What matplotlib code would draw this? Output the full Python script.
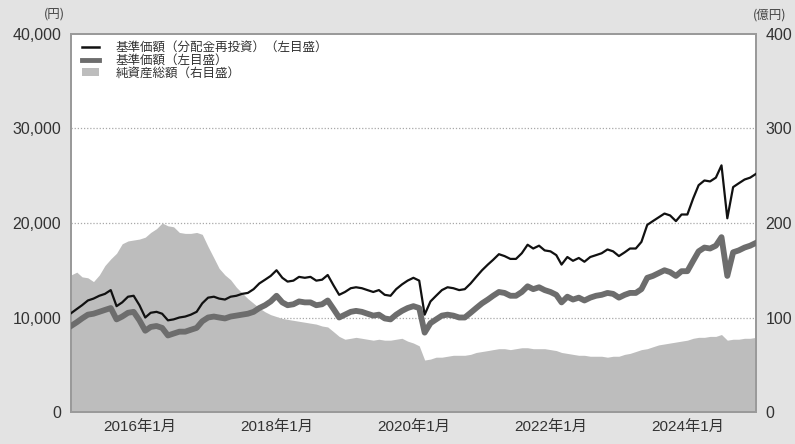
import matplotlib
matplotlib.use("Agg")
import matplotlib.pyplot as plt
from matplotlib.lines import Line2D
from matplotlib.patches import Patch
import pandas as pd

plt.rcParams["font.family"] = ["Liberation Sans", "Noto Sans CJK JP", "DejaVu Sans"]

# Monthly observations, Jan 2015 - Jan 2025
dates = pd.date_range("2015-01-01", "2025-01-01", freq="MS")

# 基準価額（分配金再投資） [円]
nav_reinvested = [
    10450, 10900, 11300, 11800, 12000, 12300, 12500, 12900, 11200, 11600, 12200, 12300,
    11300, 10000, 10500, 10600, 10400, 9700, 9800, 10000, 10100, 10300, 10600, 11500,
    12100, 12200, 12000, 11900, 12200, 12300, 12500, 12600, 13000, 13600, 14000, 14400,
    15000, 14200, 13800, 13900, 14300, 14200, 14300, 13900, 14000, 14500, 13400, 12400,
    12700, 13100, 13200, 13100, 12900, 12700, 12900, 12400, 12300, 13000, 13500, 13900,
    14200, 13900, 10300, 11700, 12300, 12900, 13200, 13100, 12900, 13000, 13600, 14300,
    15000, 15600, 16100, 16700, 16500, 16200, 16200, 16800, 17700, 17300, 17600, 17100,
    17000, 16600, 15600, 16400, 16000, 16300, 15900, 16400, 16600, 16800, 17200, 17000,
    16500, 16900, 17300, 17300, 18000, 19800, 20200, 20600, 21000, 20800, 20200, 20900,
    20900, 22600, 24000, 24500, 24400, 24800, 26100, 20500, 23800, 24200, 24600, 24800,
    25200,
]

# 基準価額 [円]
nav = [
    9100, 9500, 9900, 10300, 10400, 10600, 10800, 11000, 9800, 10100, 10500, 10600,
    9700, 8600, 9000, 9100, 8900, 8100, 8300, 8500, 8500, 8700, 8900, 9600,
    10000, 10100, 10000, 9900, 10100, 10200, 10300, 10400, 10600, 11000, 11300, 11700,
    12300, 11600, 11300, 11400, 11700, 11600, 11600, 11300, 11400, 11800, 10900, 10000,
    10300, 10600, 10700, 10600, 10400, 10200, 10300, 9900, 9800, 10300, 10700, 11000,
    11200, 11000, 8400, 9400, 9800, 10200, 10300, 10200, 10000, 10000, 10500, 11000,
    11500, 11900, 12300, 12700, 12600, 12300, 12300, 12700, 13300, 13000, 13200, 12900,
    12700, 12400, 11600, 12200, 11900, 12100, 11800, 12100, 12300, 12400, 12600, 12500,
    12100, 12400, 12600, 12600, 13000, 14200, 14400, 14700, 15000, 14800, 14400, 14900,
    14900, 16000, 17000, 17400, 17300, 17600, 18500, 14400, 16900, 17100, 17400, 17600,
    17900,
]

# 純資産総額 [億円]
net_assets = [
    145, 148, 143, 142, 138, 145, 155, 162, 168, 178, 181, 182,
    183, 185, 190, 194, 200, 197, 196, 190, 189, 189, 190, 188,
    175, 163, 152, 145, 140, 132, 126, 120, 115, 110, 106, 103,
    101, 99, 98, 97, 96, 95, 94, 93, 91, 90, 85, 80,
    77, 78, 79, 78, 77, 76, 77, 76, 76, 77, 78, 75,
    73, 70, 55, 56, 58, 58, 59, 60, 60, 60, 61, 63,
    64, 65, 66, 67, 67, 66, 67, 68, 68, 67, 67, 67,
    66, 65, 63, 62, 61, 60, 60, 59, 59, 59, 58, 59,
    59, 61, 62, 64, 66, 67, 69, 71, 72, 73, 74, 75,
    76, 78, 79, 79, 80, 80, 82, 76, 77, 77, 78, 78,
    79,
]

left_ticks = [0, 10000, 20000, 30000, 40000]
left_labels = ["0", "10,000", "20,000", "30,000", "40,000"]
right_ticks = [0, 100, 200, 300, 400]
right_labels = ["0", "100", "200", "300", "400"]
x_tick_years = [2016, 2018, 2020, 2022, 2024]
x_tick_labels = [f"{y}年1月" for y in x_tick_years]

legend_labels = ["基準価額（分配金再投資）（左目盛）", "基準価額（左目盛）", "純資産総額（右目盛）"]

BG = "#e3e3e3"
AREA = "#bdbdbd"
NAV_GREY = "#6d6d6d"
SPINE = "#9a9a9a"

fig = plt.figure(figsize=(7.95, 4.44), dpi=100, facecolor=BG)
ax2 = fig.add_axes([71 / 795, 32 / 444, 685 / 795, 378 / 444])
ax = ax2.twinx()
ax2.set_zorder(1)
ax.set_zorder(2)
ax.patch.set_visible(False)
ax2.set_facecolor("white")

# net assets area on the right scale
ax2.fill_between(dates, 0, net_assets, color=AREA, linewidth=0, zorder=2)
ax2.set_ylim(0, 400)

# grid lines
for v in left_ticks[1:-1]:
    ax2.axhline(v / 100, color="#a8a8a8", linewidth=0.9, linestyle=(0, (1, 1.5)), zorder=1)

# the price lines on the left scale
ax.plot(dates, nav, color=NAV_GREY, linewidth=4.2, solid_joinstyle="round", zorder=3)
ax.plot(dates, nav_reinvested, color="#111111", linewidth=1.6, solid_joinstyle="round", zorder=4)
ax.set_ylim(0, 40000)

# the twin axis carries the left scale; swap sides
ax.yaxis.tick_left()
ax2.yaxis.tick_right()

ax.set_yticks(left_ticks)
ax.set_yticklabels(left_labels)
ax2.set_yticks(right_ticks)
ax2.set_yticklabels(right_labels)

ax2.set_xlim(dates[0], dates[-1])
xt = [pd.Timestamp(f"{y}-01-01") for y in x_tick_years]
ax2.set_xticks(xt)
ax2.set_xticklabels(x_tick_labels)
ax.tick_params(axis="x", which="both", bottom=False, top=False,
               labelbottom=False, labeltop=False)

for a in (ax, ax2):
    for s in a.spines.values():
        s.set_color(SPINE)
        s.set_linewidth(1.4)

ax.tick_params(axis="y", length=0, pad=7, labelsize=11.5, labelcolor="#333333")
ax2.tick_params(axis="y", length=0, pad=7, labelsize=11.5, labelcolor="#333333")
ax2.tick_params(axis="x", direction="in", length=5, width=1, color="#7a7a7a",
                pad=6, labelsize=11, labelcolor="#333333")

fig.text(54 / 795, 1 - 14 / 444, "(円)", ha="center", va="center", fontsize=9,
         color="#444444", family=["Noto Sans CJK JP", "DejaVu Sans"])
fig.text(770 / 795, 1 - 15 / 444, "(億円)", ha="center", va="center", fontsize=9,
         color="#444444", family=["Noto Sans CJK JP", "DejaVu Sans"])

handles = [
    Line2D([], [], color="#111111", linewidth=1.8),
    Line2D([], [], color=NAV_GREY, linewidth=3.5),
    Patch(facecolor=AREA, edgecolor="none"),
]
leg = ax.legend(handles, legend_labels, loc="upper left", bbox_to_anchor=(0.003, 1.005),
                frameon=False, labelspacing=0.0, handlelength=1.4,
                handleheight=0.6, handletextpad=1.3, borderaxespad=0.3,
                prop={"family": ["Noto Sans CJK JP", "DejaVu Sans"], "size": 9})
for t in leg.get_texts():
    t.set_color("#333333")

fig.savefig("out.png", dpi=100, facecolor=BG)
